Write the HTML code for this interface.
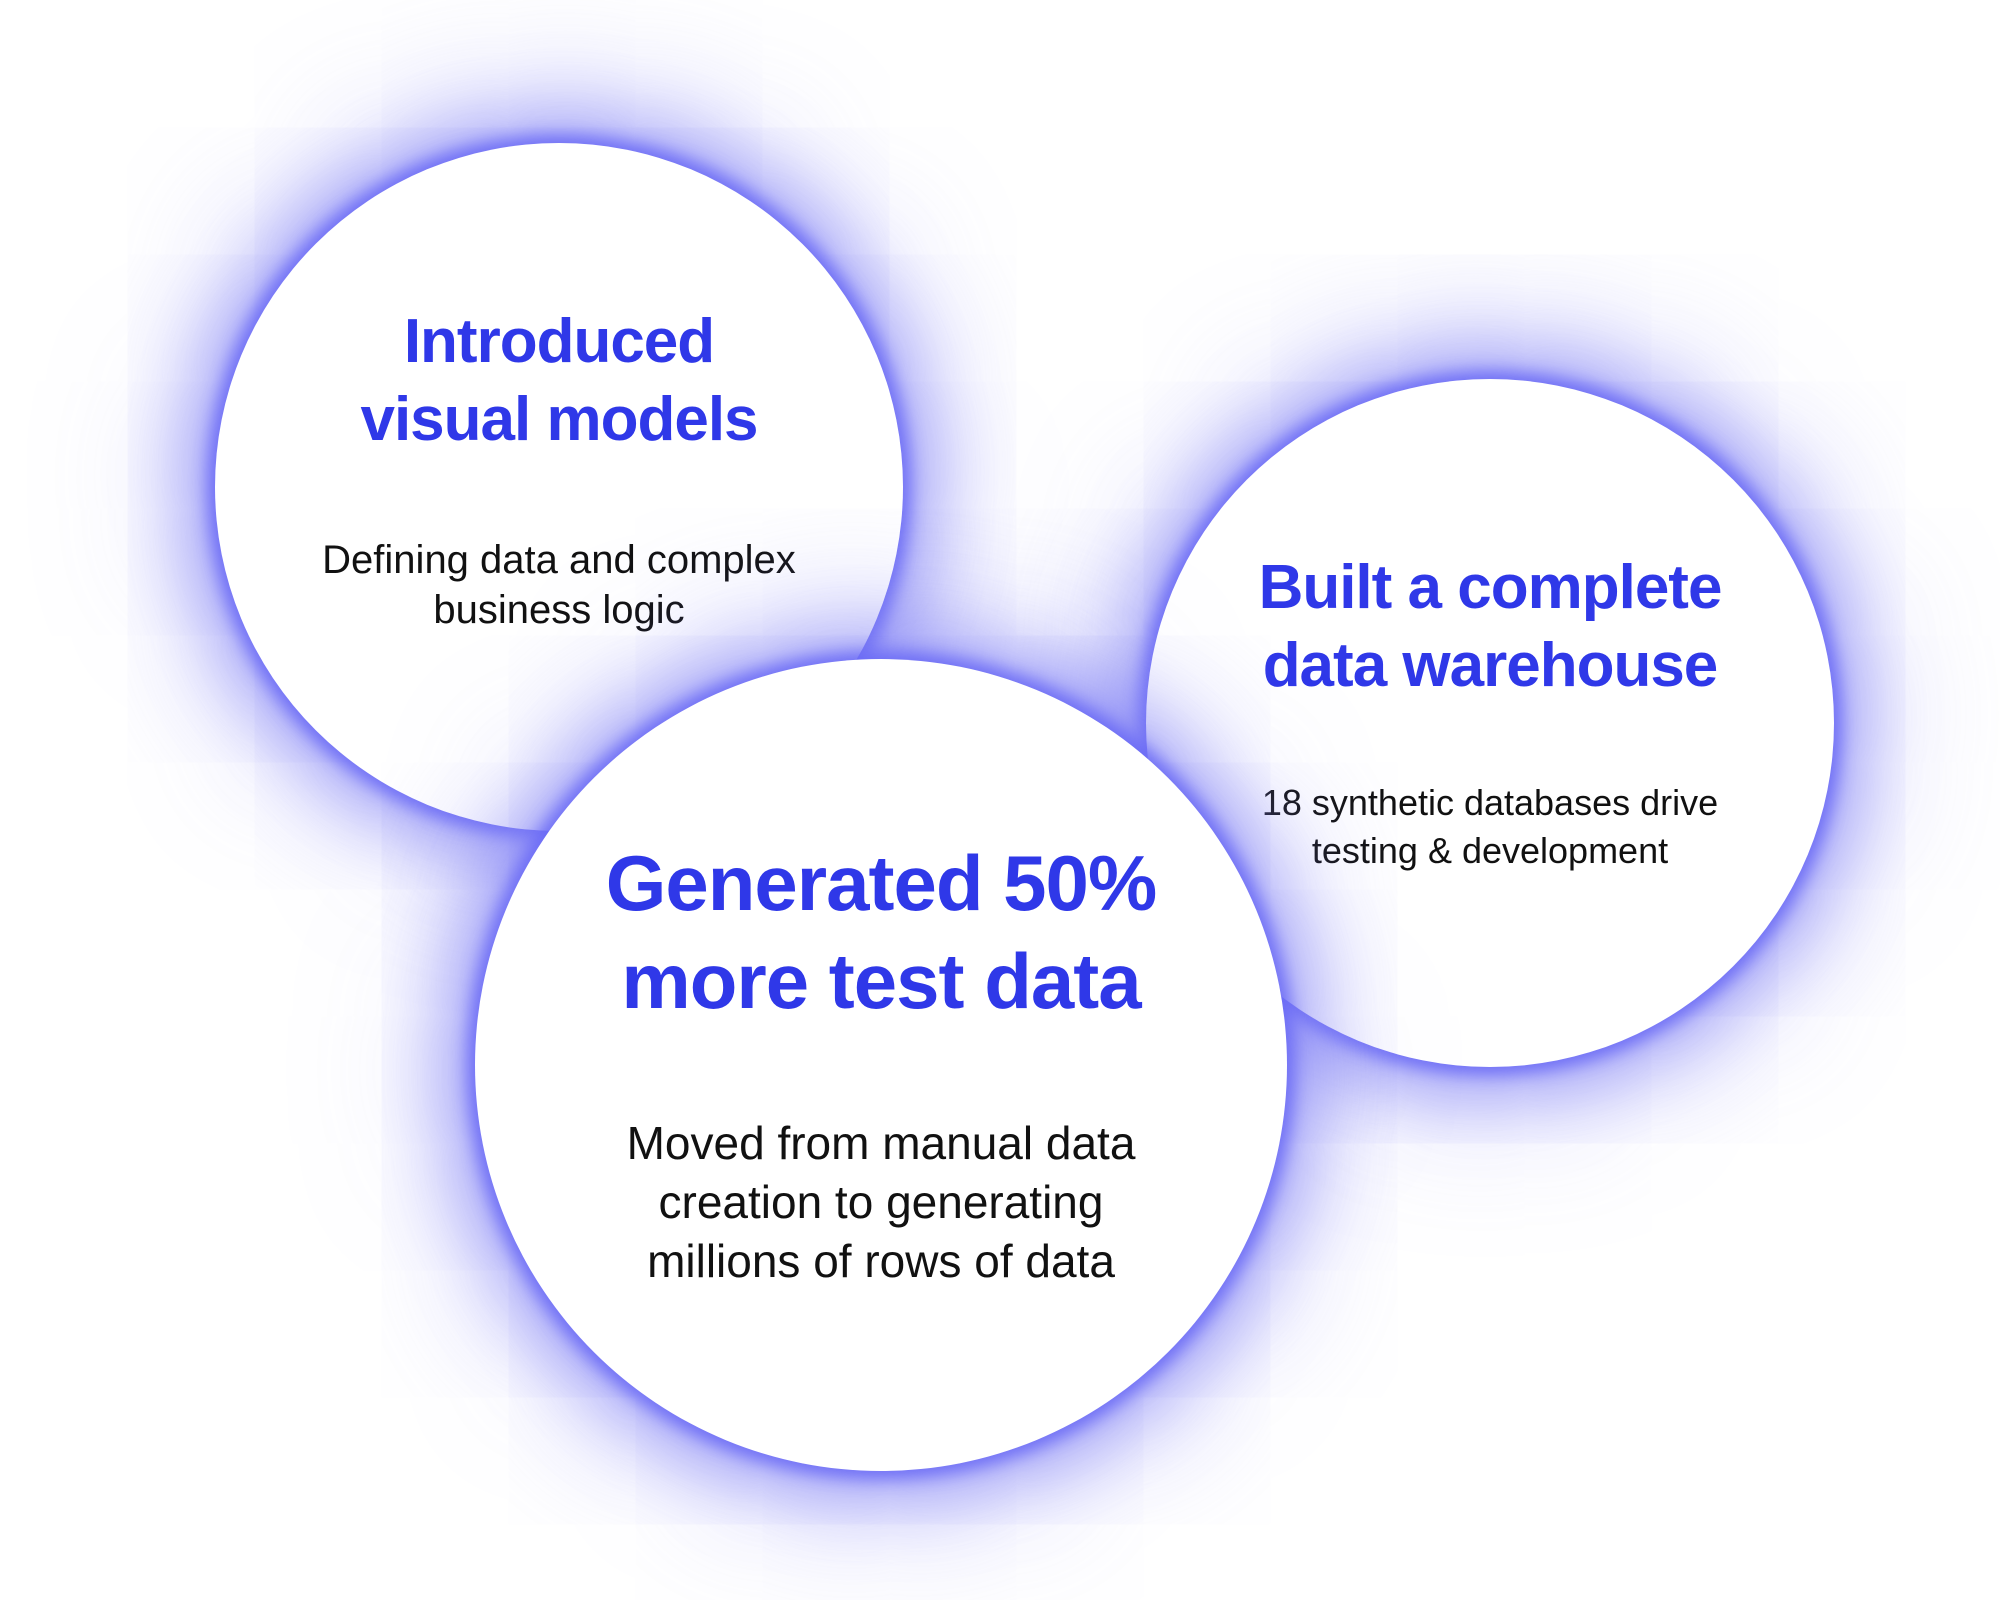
<!DOCTYPE html>
<html><head><meta charset="utf-8"><style>
html,body{margin:0;padding:0;background:#fff;}
body{width:2000px;height:1600px;position:relative;overflow:hidden;font-family:"Liberation Sans",sans-serif;}
.c{position:absolute;border-radius:50%;background:#fff;
box-shadow:0 0 16px 8px rgba(105,105,245,0.9),0 0 70px 28px rgba(115,115,245,0.6),0 0 160px 60px rgba(140,140,245,0.3);}
.t{position:absolute;left:0;width:100%;text-align:center;color:#2f38e8;font-weight:bold;letter-spacing:-1px;}
.b{position:absolute;left:0;width:100%;text-align:center;color:#111;}
</style></head><body>
<div class="c" style="left:215px;top:143px;width:688px;height:688px;">
 <div class="t" style="top:160px;font-size:62px;line-height:78px;">Introduced<br>visual models</div>
 <div class="b" style="top:392px;font-size:40px;line-height:50px;">Defining data and complex<br>business logic</div>
</div>
<div class="c" style="left:1146px;top:379px;width:688px;height:688px;">
 <div class="t" style="top:170px;font-size:62px;line-height:78px;">Built a complete<br>data warehouse</div>
 <div class="b" style="top:400px;font-size:36px;line-height:48px;">18 synthetic databases drive<br>testing &amp; development</div>
</div>
<div class="c" style="left:475px;top:659px;width:812px;height:812px;">
 <div class="t" style="top:175px;font-size:78px;line-height:98px;">Generated 50%<br>more test data</div>
 <div class="b" style="top:455px;font-size:46px;line-height:59px;">Moved from manual data<br>creation to generating<br>millions of rows of data</div>
</div>
</body></html>
